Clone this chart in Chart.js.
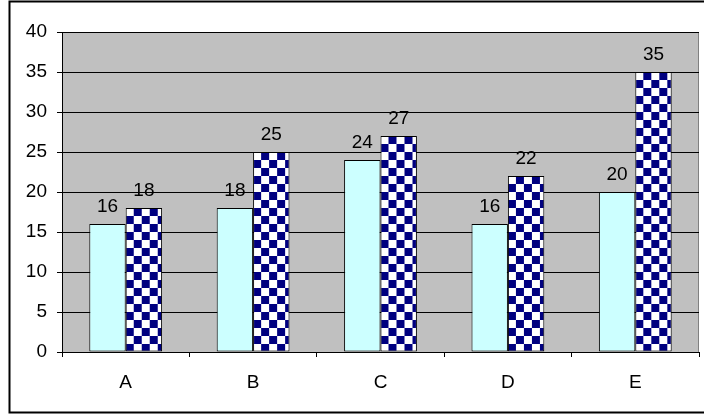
<!DOCTYPE html>
<html>
<head>
<meta charset="utf-8">
<script src="https://cdn.jsdelivr.net/npm/chart.js@4.4.1/dist/chart.umd.min.js"></script>
<style>
  html, body { margin: 0; padding: 0; background: #ffffff; }
  #wrap { width: 704px; height: 415px; }
</style>
</head>
<body>
<div id="wrap"><canvas id="c" width="704" height="415"></canvas></div>
<script>
// Chart data
const categories = ['A', 'B', 'C', 'D', 'E'];
const seriesPlain = [16, 18, 24, 16, 20];
const seriesChecked = [18, 25, 27, 22, 35];
const yMin = 0;
const yMax = 40;
const yStep = 5;

const FONT = "'Liberation Sans', Arial, sans-serif";

// 16x16 checker tile: navy and white squares of 8px
const tile = document.createElement('canvas');
tile.width = 16; tile.height = 16;
(function () {
  const t = tile.getContext('2d');
  t.fillStyle = '#ffffff'; t.fillRect(0, 0, 16, 16);
  t.fillStyle = '#000080';
  t.fillRect(8, 0, 8, 8);
  t.fillRect(0, 8, 8, 8);
})();

// Pattern anchored at the top-left corner of each bar
function checkerFill(ctx) {
  const chart = ctx.chart;
  const xs = chart.scales.x, ys = chart.scales.y;
  if (!xs || !ys || ctx.dataIndex === undefined) return '#000080';
  const left = xs.getPixelForValue(ctx.dataIndex);
  const top = ys.getPixelForValue(ctx.raw);
  const p = chart.ctx.createPattern(tile, 'repeat');
  p.setTransform(new DOMMatrix([1, 0, 0, 1, left, top]));
  return p;
}

const plotBackground = {
  id: 'plotBackground',
  beforeDraw(chart) {
    const { ctx, chartArea: a } = chart;
    ctx.save();
    ctx.fillStyle = '#c0c0c0';
    ctx.fillRect(a.left, a.top, a.right - a.left, a.bottom - a.top);
    ctx.strokeStyle = '#808080';
    ctx.lineWidth = 1;
    ctx.beginPath();
    ctx.moveTo(Math.round(a.right) - 0.5, a.top);
    ctx.lineTo(Math.round(a.right) - 0.5, a.bottom);
    ctx.stroke();
    ctx.restore();
  }
};

const outerFrame = {
  id: 'outerFrame',
  afterDraw(chart) {
    const ctx = chart.ctx;
    ctx.save();
    ctx.strokeStyle = '#000000';
    ctx.lineWidth = 2;
    ctx.strokeRect(9.5, 1.5, 710, 411);
    ctx.restore();
  }
};

const valueLabels = {
  id: 'valueLabels',
  afterDatasetsDraw(chart) {
    const ctx = chart.ctx;
    ctx.save();
    ctx.font = '19px ' + FONT;
    ctx.fillStyle = '#000000';
    ctx.textAlign = 'center';
    ctx.textBaseline = 'alphabetic';
    chart.data.datasets.forEach((ds, di) => {
      chart.getDatasetMeta(di).data.forEach((bar, i) => {
        ctx.fillText(String(ds.data[i]), bar.x, bar.y - 12);
      });
    });
    ctx.restore();
  }
};

new Chart(document.getElementById('c'), {
  type: 'bar',
  data: {
    labels: categories,
    datasets: [
      {
        data: seriesPlain,
        backgroundColor: '#ccffff',
        borderColor: '#000000',
        borderWidth: 1,
        borderSkipped: false
      },
      {
        data: seriesChecked,
        backgroundColor: checkerFill,
        borderColor: '#000000',
        borderWidth: 1,
        borderSkipped: false
      }
    ]
  },
  options: {
    responsive: false,
    devicePixelRatio: 1,
    animation: false,
    events: [],
    layout: { padding: { left: 0, top: 32, right: 5, bottom: 0 } },
    datasets: { bar: { barPercentage: 1, categoryPercentage: 2 / 3.5 } },
    plugins: { legend: { display: false }, tooltip: { enabled: false } },
    scales: {
      x: {
        grid: {
          offset: true,
          drawOnChartArea: false,
          drawTicks: true,
          tickLength: 5,
          tickColor: '#000000'
        },
        border: { display: true, color: '#000000', width: 1 },
        ticks: { color: '#000000', font: { family: FONT, size: 19 }, padding: 14, maxRotation: 0 },
        afterFit(scale) { scale.height = 63; }
      },
      y: {
        min: yMin,
        max: yMax,
        ticks: { stepSize: yStep, color: '#000000', font: { family: FONT, size: 19 }, padding: 10 },
        grid: { color: '#000000', lineWidth: 1, drawTicks: true, tickLength: 5, tickColor: '#000000' },
        border: { display: true, color: '#000000', width: 1 },
        afterFit(scale) { scale.width = 62; }
      }
    }
  },
  plugins: [plotBackground, valueLabels, outerFrame]
});
</script>
</body>
</html>
